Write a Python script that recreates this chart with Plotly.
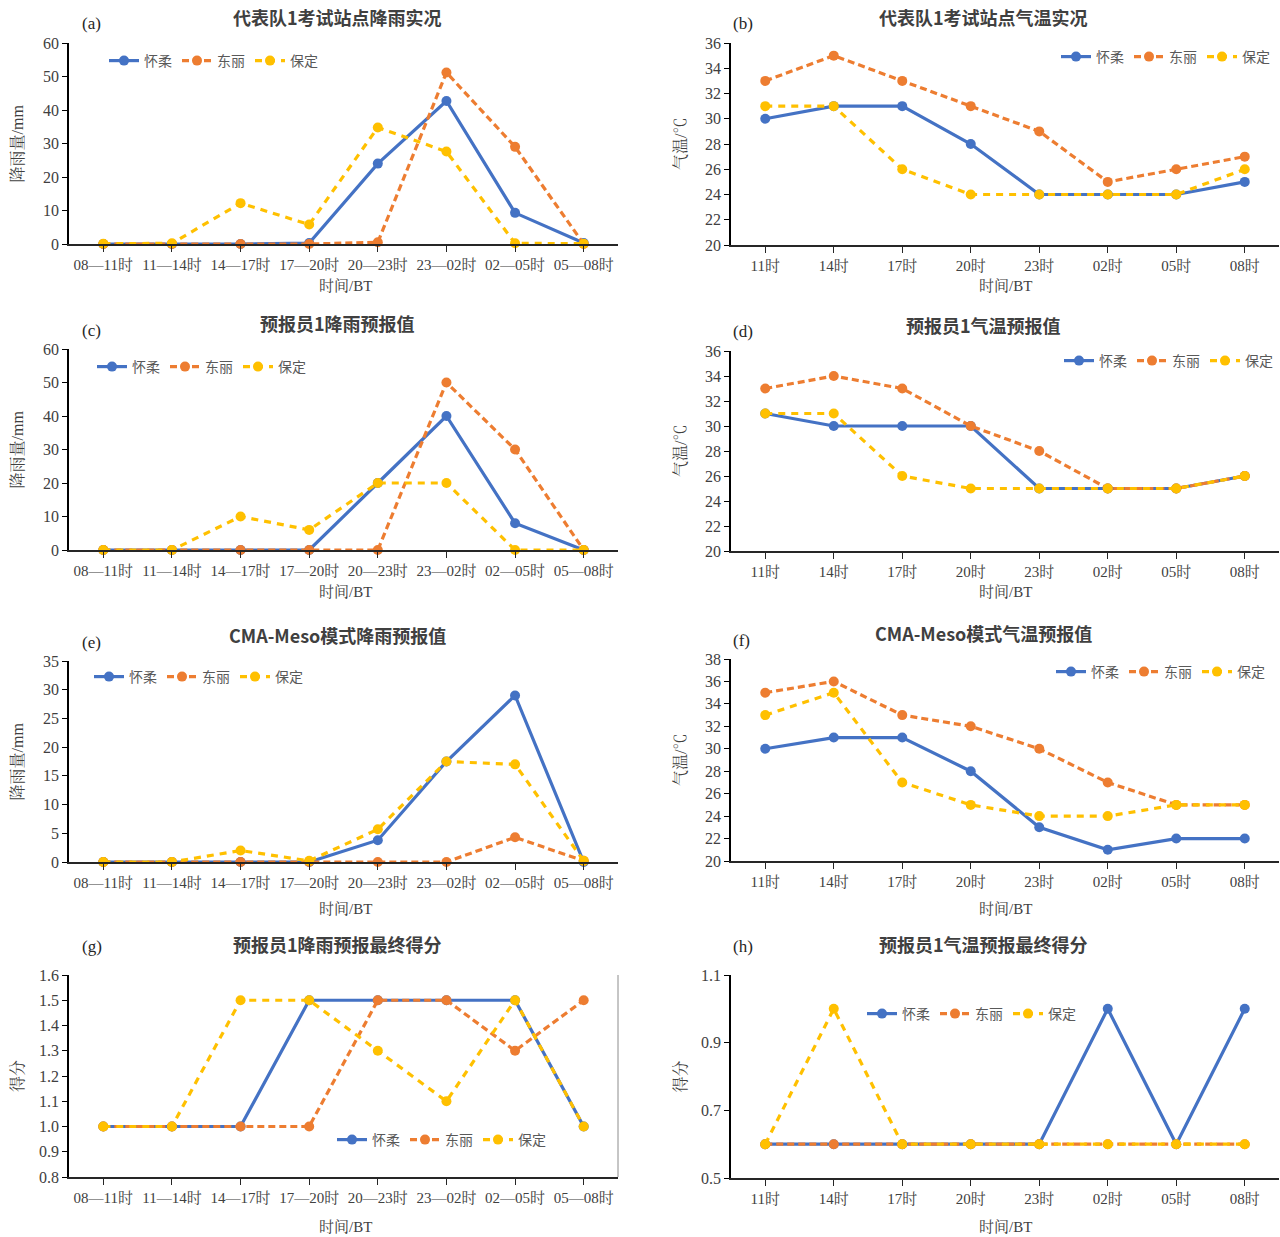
import plotly.graph_objects as go

# ---------------- data ----------------
rain_periods = ["08—11时", "11—14时", "14—17时", "17—20时", "20—23时", "23—02时", "02—05时", "05—08时"]
temp_times = ["11时", "14时", "17时", "20时", "23时", "02时", "05时", "08时"]
stations = ["怀柔", "东丽", "保定"]

# (a) observed rain
obs_rain_huairou = [0, 0, 0, 0.3, 24, 42.7, 9.3, 0.3]
obs_rain_dongli = [0, 0, 0, 0, 0.5, 51.2, 29, 0]
obs_rain_baoding = [0.1, 0.2, 12.2, 5.8, 34.8, 27.6, 0.2, 0.1]
# (b) observed temperature
obs_temp_huairou = [30, 31, 31, 28, 24, 24, 24, 25]
obs_temp_dongli = [33, 35, 33, 31, 29, 25, 26, 27]
obs_temp_baoding = [31, 31, 26, 24, 24, 24, 24, 26]
# (c) forecaster rain
fc_rain_huairou = [0, 0, 0, 0, 20, 40, 8, 0]
fc_rain_dongli = [0, 0, 0, 0, 0, 50, 30, 0]
fc_rain_baoding = [0, 0, 10, 6, 20, 20, 0, 0]
# (d) forecaster temperature
fc_temp_huairou = [31, 30, 30, 30, 25, 25, 25, 26]
fc_temp_dongli = [33, 34, 33, 30, 28, 25, 25, 26]
fc_temp_baoding = [31, 31, 26, 25, 25, 25, 25, 26]
# (e) CMA-Meso rain
cma_rain_huairou = [0, 0, 0, 0, 3.8, 17.5, 29, 0]
cma_rain_dongli = [0, 0, 0, 0, 0, 0, 4.3, 0.2]
cma_rain_baoding = [0, 0, 2, 0.2, 5.7, 17.5, 17, 0.2]
# (f) CMA-Meso temperature
cma_temp_huairou = [30, 31, 31, 28, 23, 21, 22, 22]
cma_temp_dongli = [35, 36, 33, 32, 30, 27, 25, 25]
cma_temp_baoding = [33, 35, 27, 25, 24, 24, 25, 25]
# (g) rain score
score_rain_huairou = [1.0, 1.0, 1.0, 1.5, 1.5, 1.5, 1.5, 1.0]
score_rain_dongli = [1.0, 1.0, 1.0, 1.0, 1.5, 1.5, 1.3, 1.5]
score_rain_baoding = [1.0, 1.0, 1.5, 1.5, 1.3, 1.1, 1.5, 1.0]
# (h) temperature score
score_temp_huairou = [0.6, 0.6, 0.6, 0.6, 0.6, 1.0, 0.6, 1.0]
score_temp_dongli = [0.6, 0.6, 0.6, 0.6, 0.6, 0.6, 0.6, 0.6]
score_temp_baoding = [0.6, 1.0, 0.6, 0.6, 0.6, 0.6, 0.6, 0.6]

# ---------------- styling ----------------
W, H = 1280, 1237
colors = ["#4472C4", "#ED7D31", "#FFC000"]
dashes = ["solid", "7px,4px", "7px,6px"]
serif = "Liberation Serif, Noto Serif CJK SC, Noto Sans CJK SC"
cjk = "Noto Sans CJK SC"


def px(x):
    return x / W


def py(y):
    return 1 - y / H


panels = [
    dict(letter="(a)", title="代表队1考试站点降雨实况", cats=rain_periods,
         series=[obs_rain_huairou, obs_rain_dongli, obs_rain_baoding],
         yr=[0, 60], dt=10, fmt="", yt="降雨量/mm", xs=(69, 618), ys=(43, 244), leg=(104, 61), xt=286),
    dict(letter="(b)", title="代表队1考试站点气温实况", cats=temp_times,
         series=[obs_temp_huairou, obs_temp_dongli, obs_temp_baoding],
         yr=[20, 36], dt=2, fmt="", yt="气温/℃", xs=(731, 1279), ys=(43, 245), leg=(1056, 57), xt=286),
    dict(letter="(c)", title="预报员1降雨预报值", cats=rain_periods,
         series=[fc_rain_huairou, fc_rain_dongli, fc_rain_baoding],
         yr=[0, 60], dt=10, fmt="", yt="降雨量/mm", xs=(69, 618), ys=(349, 550), leg=(92, 367), xt=592),
    dict(letter="(d)", title="预报员1气温预报值", cats=temp_times,
         series=[fc_temp_huairou, fc_temp_dongli, fc_temp_baoding],
         yr=[20, 36], dt=2, fmt="", yt="气温/℃", xs=(731, 1279), ys=(351, 551), leg=(1059, 361), xt=592),
    dict(letter="(e)", title="CMA-Meso模式降雨预报值", cats=rain_periods,
         series=[cma_rain_huairou, cma_rain_dongli, cma_rain_baoding],
         yr=[0, 35], dt=5, fmt="", yt="降雨量/mm", xs=(69, 618), ys=(661, 862), leg=(89, 677), xt=909),
    dict(letter="(f)", title="CMA-Meso模式气温预报值", cats=temp_times,
         series=[cma_temp_huairou, cma_temp_dongli, cma_temp_baoding],
         yr=[20, 38], dt=2, fmt="", yt="气温/℃", xs=(731, 1279), ys=(659, 861), leg=(1051, 672), xt=909),
    dict(letter="(g)", title="预报员1降雨预报最终得分", cats=rain_periods,
         series=[score_rain_huairou, score_rain_dongli, score_rain_baoding],
         yr=[0.8, 1.6], dt=0.1, fmt=".1f", yt="得分", xs=(69, 618), ys=(975, 1177), leg=(332, 1140), xt=1227,
         border=True),
    dict(letter="(h)", title="预报员1气温预报最终得分", cats=temp_times,
         series=[score_temp_huairou, score_temp_dongli, score_temp_baoding],
         yr=[0.5, 1.1], dt=0.2, fmt=".1f", yt="得分", xs=(731, 1279), ys=(975, 1178), leg=(862, 1014), xt=1227),
]

fig = go.Figure()
annotations = []
shapes = []
layout = {}

for i, p in enumerate(panels, start=1):
    xa = "xaxis" if i == 1 else f"xaxis{i}"
    ya = "yaxis" if i == 1 else f"yaxis{i}"
    xr = "x" if i == 1 else f"x{i}"
    yr = "y" if i == 1 else f"y{i}"
    lg = "legend" if i == 1 else f"legend{i}"

    for k, (name, vals) in enumerate(zip(stations, p["series"])):
        fig.add_trace(go.Scatter(
            x=p["cats"], y=vals, name=name, mode="lines+markers",
            line=dict(color=colors[k], width=3.2, dash=dashes[k]),
            marker=dict(color=colors[k], size=10, symbol="circle"),
            xaxis=xr, yaxis=yr, legend=lg, cliponaxis=False,
        ))

    x0, x1 = p["xs"]
    top, bot = p["ys"]
    layout[xa] = dict(
        domain=[px(x0), px(x1)], anchor=yr, type="category", automargin=False,
        range=[-0.5, 7.5], showgrid=False, zeroline=False,
        showline=True, linecolor="#262626", linewidth=1.5,
        ticks="outside", ticklen=6, tickcolor="#262626", tickwidth=1,
        tickfont=dict(family=serif, size=15, color="#404040"),
        fixedrange=True,
    )
    layout[ya] = dict(
        domain=[py(bot), py(top)], anchor=xr, automargin=False,
        range=p["yr"], dtick=p["dt"], tick0=p["yr"][0], tickformat=p["fmt"],
        showgrid=False, zeroline=False,
        showline=True, linecolor="#000000", linewidth=1.5,
        ticks="outside", ticklen=5, tickcolor="#000000",
        tickfont=dict(family=serif, size=16, color="#404040"),
        fixedrange=True,
    )
    lx, ly = p["leg"]
    layout[lg] = dict(
        x=px(lx), y=py(ly), xanchor="left", yanchor="middle",
        orientation="h", bgcolor="rgba(0,0,0,0)", borderwidth=0,
        font=dict(family=cjk, size=14, color="#595959"),
        itemwidth=30, tracegroupgap=0, itemclick=False, itemdoubleclick=False,
    )

    left = x0 < 640
    title_cx = 337 if left else 983
    title_y = top - 26 if top < 900 else top - 31
    annotations.append(dict(
        text=f"<b>{p['title']}</b>", x=px(title_cx), y=py(title_y),
        xref="paper", yref="paper", xanchor="center", yanchor="middle",
        showarrow=False, font=dict(family=cjk, size=18, color="#404040"),
    ))
    annotations.append(dict(
        text=p["letter"], x=px(80 if left else 731), y=py(top - 19 if top < 900 else top - 29),
        xref="paper", yref="paper", xanchor="left", yanchor="middle",
        showarrow=False, font=dict(family=serif, size=17, color="#262626"),
    ))
    annotations.append(dict(
        text="时间/BT", x=px(345 if left else 1005), y=py(p["xt"]),
        xref="paper", yref="paper", xanchor="center", yanchor="middle",
        showarrow=False, font=dict(family=serif, size=15, color="#404040"),
    ))
    annotations.append(dict(
        text=p["yt"], x=px(17 if left else 680), y=py((top + bot) / 2),
        xref="paper", yref="paper", xanchor="center", yanchor="middle", textangle=-90,
        showarrow=False, font=dict(family=serif, size=16, color="#404040"),
    ))
    if p.get("border"):
        shapes.append(dict(
            type="line", xref=f"{xr} domain", yref=f"{yr} domain",
            x0=1, x1=1, y0=0, y1=1, line=dict(color="#8c8c8c", width=1),
        ))

fig.update_layout(
    width=W, height=H, margin=dict(l=0, r=0, t=0, b=0, autoexpand=False),
    paper_bgcolor="white", plot_bgcolor="white",
    showlegend=True, annotations=annotations, shapes=shapes,
    font=dict(family=serif, color="#404040"),
    **layout,
)

fig.write_html(
    "out.html",
    config={"displayModeBar": False},
    post_script="document.body.style.margin='0px'; document.body.style.overflow='hidden';",
)
